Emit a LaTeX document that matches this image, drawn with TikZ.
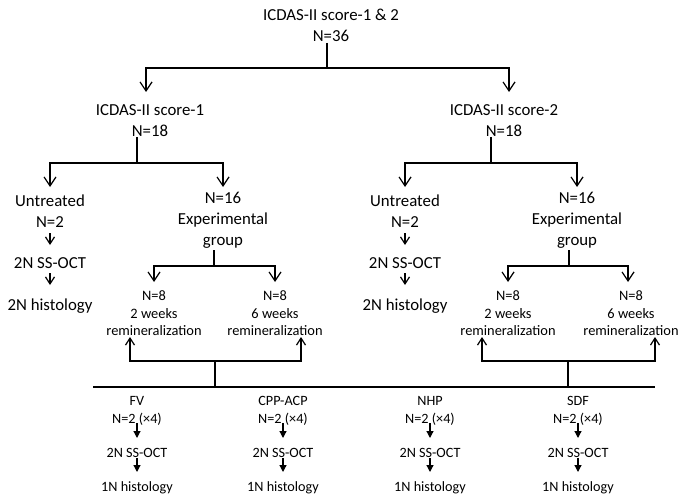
\documentclass[tikz,border=0pt]{standalone}
\usepackage{fontspec}
\setmainfont{Carlito}
\usetikzlibrary{arrows.meta}
\newcommand\fmain{\fontsize{16.8}{21}\selectfont}
\newcommand\fmid{\fontsize{14.4}{17.5}\selectfont}
\newcommand\fsmall{\fontsize{14.2}{18}\selectfont}
\begin{document}
\begin{tikzpicture}[x=1pt,y=-1pt,
  txt/.style={inner sep=0pt, align=center, font=\fmain},
  midtxt/.style={inner sep=0pt, align=center, font=\fmid},
  smalltxt/.style={inner sep=0pt, align=center, font=\fsmall},
  ln/.style={line width=1.2pt},
  barbL/.style={ln, -{Straight Barb[length=9pt,width=12pt]}},
  barbS/.style={ln, -{Straight Barb[length=7pt,width=9pt]}},
  tri/.style={ln, -{Triangle[length=7pt,width=7pt]}}]
\useasboundingbox (0,0) rectangle (688,500);
% top
\node[txt] (top) at (331,26.7) {\strut ICDAS-II score-1 \& 2\\\strut N=36};
\node[txt] (s1) at (150,121.7) {\strut ICDAS-II score-1\\\strut N=18};
\node[txt] (s2) at (504,121.7) {\strut ICDAS-II score-2\\\strut N=18};
% left branch
\node[txt] (uL) at (50,212.7) {\strut Untreated\\\strut N=2};
\node[txt] (oL) at (50,264.2) {\strut 2N SS-OCT};
\node[txt] (hL) at (50,306.2) {\strut 2N histology};
\node[txt] (eL) at (223,220.2) {\strut N=16\\\strut Experimental\\\strut group};
\node[midtxt] (w2L) at (154,314.6) {\strut N=8\\\strut 2 weeks\\\strut remineralization};
\node[midtxt] (w6L) at (275,314.6) {\strut N=8\\\strut 6 weeks\\\strut remineralization};
% right branch
\node[txt] (uR) at (405,212.7) {\strut Untreated\\\strut N=2};
\node[txt] (oR) at (405,264.2) {\strut 2N SS-OCT};
\node[txt] (hR) at (405,306.2) {\strut 2N histology};
\node[txt] (eR) at (577,220.2) {\strut N=16\\\strut Experimental\\\strut group};
\node[midtxt] (w2R) at (508,314.6) {\strut N=8\\\strut 2 weeks\\\strut remineralization};
\node[midtxt] (w6R) at (631,314.6) {\strut N=8\\\strut 6 weeks\\\strut remineralization};
% bottom agents
\foreach \nm/\lab/\x in {fv/FV/137, cpp/CPP-ACP/283, nhp/NHP/430, sdf/SDF/578}{
  \node[smalltxt] (\nm) at (\x,410.9) {\strut \lab\\\strut N=2 (×4)};
  \node[smalltxt] (\nm o) at (\x,453.9) {\strut 2N SS-OCT};
  \node[smalltxt] (\nm h) at (\x,487.9) {\strut 1N histology};
  \draw[tri] (\x,423) -- (\x,438);
  \draw[tri] (\x,458) -- (\x,472);
}
% connectors: top level
\coordinate (j0) at (327,68);
\draw[ln] (327,43) -- (j0);
\draw[barbL] (j0) -| (146,92);
\draw[barbL] (j0) -| (509,92);
% level 2 left
\coordinate (j1) at (137,163);
\draw[ln] (137,137) -- (j1);
\draw[barbL] (j1) -| (50,187);
\draw[barbL] (j1) -| (223,187);
% level 2 right
\coordinate (j2) at (491,163);
\draw[ln] (491,137) -- (j2);
\draw[barbL] (j2) -| (405,187);
\draw[barbL] (j2) -| (577,187);
% untreated columns
\draw[barbS] (50,233) -- (50,245);
\draw[barbS] (50,273) -- (50,285);
\draw[barbS] (405,233) -- (405,245);
\draw[barbS] (405,273) -- (405,285);
% experimental splits
\coordinate (j3) at (214,266);
\draw[ln] (214,250) -- (j3);
\draw[barbL] (j3) -| (154,282);
\draw[barbL] (j3) -| (275,282);
\coordinate (j4) at (569,266);
\draw[ln] (569,250) -- (j4);
\draw[barbL] (j4) -| (508,282);
\draw[barbL] (j4) -| (628,282);
% up arrows to remineralization
\coordinate (j5) at (215,361);
\draw[ln] (215,387) -- (j5);
\draw[barbS] (j5) -| (130,337);
\draw[barbS] (j5) -| (301,337);
\coordinate (j6) at (568,361);
\draw[ln] (568,387) -- (j6);
\draw[barbS] (j6) -| (482,337);
\draw[barbS] (j6) -| (655,337);
% long base line
\draw[ln] (93,387) -- (655,387);
\end{tikzpicture}
\end{document}
